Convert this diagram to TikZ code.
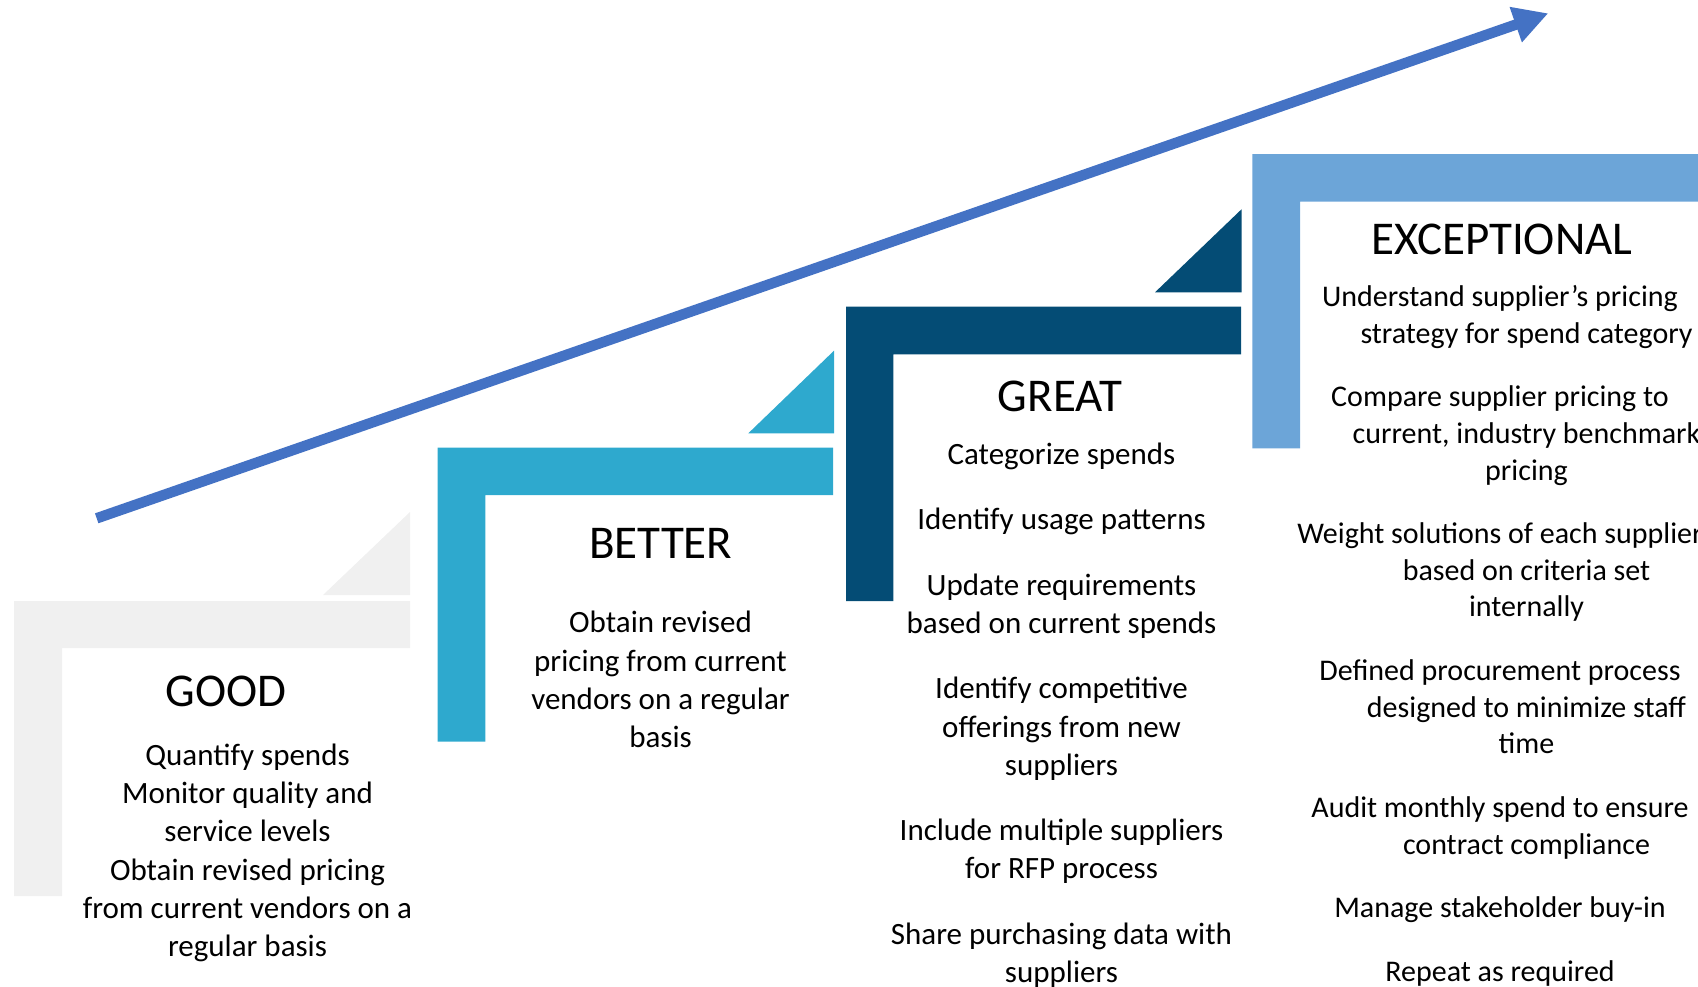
\documentclass[tikz,border=0pt]{standalone}
\usepackage{fontspec}
\setmainfont{Carlito}
\usetikzlibrary{arrows.meta}
\definecolor{goodgray}{RGB}{240,240,240}
\definecolor{betterblue}{RGB}{46,169,206}
\definecolor{greatblue}{RGB}{4,76,117}
\definecolor{excblue}{RGB}{108,165,216}
\definecolor{arrowblue}{RGB}{68,114,196}
\newcommand\contind{\hspace*{53pt}}
\tikzset{
  titletext/.style={anchor=base, inner sep=0pt, font=\fontsize{47}{56}\selectfont},
  bodytext/.style={anchor=base, inner sep=0pt, align=center, font=\fontsize{31}{38.2}\selectfont},
  exctext/.style={anchor=base, inner sep=0pt, align=center, font=\fontsize{30}{36.7}\selectfont},
}
\begin{document}
\begin{tikzpicture}[x=1pt,y=-1pt]
\useasboundingbox (0,0) rectangle (1698,986);
% GOOD step
\fill[goodgray] (323,595) -- (410,595) -- (410,512) -- cycle;
\fill[goodgray] (14,601) -- (410,601) -- (410,648) -- (62,648) -- (62,896) -- (14,896) -- cycle;
% BETTER step
\fill[betterblue] (748.3,433.3) -- (834,433.3) -- (834,350.7) -- cycle;
\fill[betterblue] (437.7,447.7) -- (833,447.7) -- (833,495) -- (485.3,495) -- (485.3,741.7) -- (437.7,741.7) -- cycle;
% GREAT step
\fill[greatblue] (1155,292.3) -- (1241.5,292.3) -- (1241.5,209.3) -- cycle;
\fill[greatblue] (846,306.7) -- (1241,306.7) -- (1241,354.3) -- (893.3,354.3) -- (893.3,601) -- (846,601) -- cycle;
% EXCEPTIONAL step
\fill[excblue] (1252.3,154) -- (1710,154) -- (1710,201.7) -- (1300,201.7) -- (1300,448.3) -- (1252.3,448.3) -- cycle;
% arrow
\coordinate (tail) at (96.7,518.3);
\coordinate (tip) at (1548.3,13.3);
\draw[arrowblue, line width=10.5pt, -{Triangle[length=34.5pt,width=35pt]}] (tail) -- (tip);
% texts (anchor base = baseline of the last line)
\node[titletext] (goodT) at (225.8,706) {GOOD};
\node[bodytext] (goodB) at (247.5,956.5) {Quantify spends\\Monitor quality and\\service levels\\Obtain revised pricing\\from current vendors on a\\regular basis};
\node[titletext] (betterT) at (660.8,558.3) {BETTER};
\node[bodytext] (betterB) at (660.5,747.5) {Obtain revised\\pricing from current\\vendors on a regular\\basis};
\node[titletext] (greatT) at (1060,411.7) {GREAT};
\node[bodytext] (greatB) at (1061.5,982.5) {Categorize spends\\[27.2pt]Identify usage patterns\\[27.2pt]Update requirements\\based on current spends\\[27.2pt]Identify competitive\\offerings from new\\suppliers\\[27.2pt]Include multiple suppliers\\for RFP process\\[27.2pt]Share purchasing data with\\suppliers};
\node[titletext] (excT) at (1501.7,254.3) {EXCEPTIONAL};
\node[exctext] (excB) at (1500,981) {Understand supplier’s pricing\\\contind strategy for spend category\\[26.8pt]Compare supplier pricing to\\\contind current, industry benchmark\\\contind pricing\\[26.8pt]Weight solutions of each supplier\\\contind based on criteria set\\\contind internally\\[26.8pt]Defined procurement process\\\contind designed to minimize staff\\\contind time\\[26.8pt]Audit monthly spend to ensure\\\contind contract compliance\\[26.8pt]Manage stakeholder buy-in\\[26.8pt]Repeat as required};
\end{tikzpicture}
\end{document}
